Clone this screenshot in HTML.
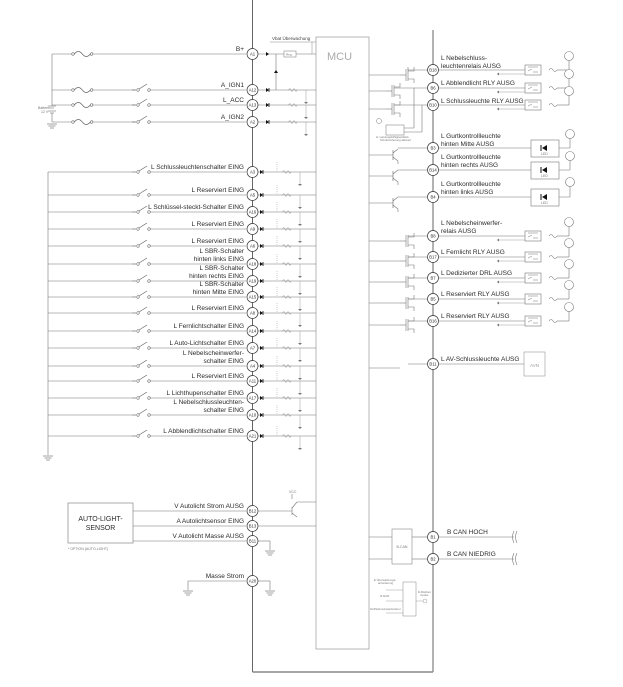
<!DOCTYPE html>
<html><head><meta charset="utf-8"><style>
html,body{margin:0;padding:0;background:#fff}
svg{display:block}
text{font-family:"Liberation Sans",sans-serif}
svg > text:not([fill]), svg > g:not([fill]) > text:not([fill]){fill:#2a2a2a}
</style></head><body>
<svg width="623" height="687" viewBox="0 0 623 687" xmlns="http://www.w3.org/2000/svg">
<defs>
<g id="sw"><line x1="-6" y1="0" x2="-2" y2="0" stroke="#666" stroke-width="0.7"/><circle cx="0" cy="0" r="1.3" fill="#fff" stroke="#666" stroke-width="0.6"/><line x1="1" y1="-1" x2="9" y2="-6" stroke="#666" stroke-width="0.7"/><circle cx="11" cy="0" r="1.3" fill="#fff" stroke="#666" stroke-width="0.6"/></g>
<g id="fu"><circle cx="0" cy="0" r="1.3" fill="#fff" stroke="#666" stroke-width="0.6"/><path d="M1.3 0 q4 -5 8 0 q4 5 8 0" fill="none" stroke="#666" stroke-width="0.7"/><circle cx="18.6" cy="0" r="1.3" fill="#fff" stroke="#666" stroke-width="0.6"/></g>
<g id="din"><polygon points="-2,-2 -2,2 1,0" fill="#111"/><line x1="1" y1="-2" x2="1" y2="2" stroke="#111" stroke-width="0.8"/><path d="M20 0 l2 -1.5 l2 3 l2 -3 l2 3 l1 -1.5" fill="none" stroke="#888" stroke-width="0.5"/><line x1="38" y1="0" x2="38" y2="12" stroke="#999" stroke-width="0.5"/><path d="M36 12 h4 l-2 2 z" fill="#777"/></g>
<g id="gnd"><line x1="-5" y1="0" x2="5" y2="0" stroke="#666" stroke-width="0.6"/><line x1="-3.5" y1="2" x2="3.5" y2="2" stroke="#666" stroke-width="0.6"/><line x1="-2" y1="4" x2="2" y2="4" stroke="#666" stroke-width="0.6"/></g>
<g id="rly"><rect x="0" y="-5" width="16" height="10" fill="#fff" stroke="#777" stroke-width="0.6"/><path d="M3 -3 h10 M3 1 l4 -2 M8 2 h5" stroke="#777" stroke-width="0.5" fill="none"/><line x1="-28" y1="4" x2="0" y2="4" stroke="#999" stroke-width="0.5"/><path d="M-28 4 l2 -1.5 v3z" fill="#777"/><path d="M24 0 q2 -3 4 0 q2 3 4 0" fill="none" stroke="#777" stroke-width="0.6"/><line x1="32" y1="0" x2="44" y2="0" stroke="#777" stroke-width="0.6"/><line x1="44" y1="0" x2="44" y2="-10" stroke="#777" stroke-width="0.6"/><circle cx="44" cy="-14" r="4.5" fill="#fff" stroke="#777" stroke-width="0.6"/></g>
<g id="fet"><line x1="0" y1="-6" x2="0" y2="6" stroke="#777" stroke-width="0.6"/><line x1="2" y1="-6" x2="2" y2="6" stroke="#777" stroke-width="0.6"/><path d="M2 -4 h6 v-4 M2 4 h6 v4" fill="none" stroke="#777" stroke-width="0.6"/><line x1="-6" y1="0" x2="0" y2="0" stroke="#777" stroke-width="0.6"/></g>
<g id="bjt"><line x1="0" y1="-5" x2="0" y2="5" stroke="#777" stroke-width="0.7"/><path d="M0 -2 l5 -4 M0 2 l5 4 v3" fill="none" stroke="#777" stroke-width="0.6"/></g>
<g id="led"><rect x="0" y="-8" width="28" height="17" fill="#fff" stroke="#777" stroke-width="0.6"/><polygon points="16,-3 16,3 11,0" fill="#111"/><line x1="10" y1="-3" x2="10" y2="3" stroke="#111"/><text x="10" y="7" font-size="3.5" fill="#777">LED</text></g>
</defs>

<!-- outer box -->
<g stroke="#555" stroke-width="0.9" fill="none">
<line x1="252.5" y1="0" x2="252.5" y2="672"/>
<line x1="433" y1="30" x2="433" y2="672"/>
<line x1="252.5" y1="672" x2="433" y2="672" stroke-width="1.4" stroke="#888"/>
</g>
<rect x="316" y="37" width="53" height="612" fill="none" stroke="#888" stroke-width="0.6"/>
<text x="327" y="60" font-size="11" fill="#aaa">MCU</text>
<text x="272" y="40" font-size="4.5" fill="#444">Vbat Überwachung</text>
<line x1="270" y1="42" x2="316" y2="42" stroke="#888" stroke-width="0.5"/>
<line x1="312" y1="42" x2="312" y2="54" stroke="#888" stroke-width="0.5"/>

<!-- top power -->
<g stroke="#777" stroke-width="0.6" fill="none">
<line x1="52" y1="54" x2="73" y2="54"/><line x1="92" y1="54" x2="246" y2="54"/>
<line x1="52" y1="54" x2="52" y2="106"/><line x1="52" y1="113" x2="52" y2="122"/>
<line x1="52" y1="90" x2="73" y2="90"/><line x1="92" y1="90" x2="135" y2="90"/><line x1="149" y1="90" x2="246" y2="90"/>
<line x1="52" y1="105" x2="73" y2="105"/><line x1="92" y1="105" x2="135" y2="105"/><line x1="149" y1="105" x2="246" y2="105"/>
<line x1="52" y1="122" x2="73" y2="122"/><line x1="92" y1="122" x2="135" y2="122"/><line x1="149" y1="122" x2="246" y2="122"/>
<line x1="48" y1="106" x2="56" y2="106"/><line x1="50" y1="108" x2="54" y2="108"/><line x1="48" y1="111" x2="56" y2="111"/><line x1="50" y1="113" x2="54" y2="113"/>
<line x1="258" y1="54" x2="284" y2="54"/><line x1="296" y1="54" x2="316" y2="54"/>
<line x1="276" y1="54" x2="276" y2="90"/>
</g>
<use href="#fu" x="73" y="54"/><use href="#fu" x="73" y="90"/><use href="#fu" x="73" y="105"/><use href="#fu" x="73" y="122"/>
<use href="#sw" x="138" y="90"/><use href="#sw" x="138" y="105"/><use href="#sw" x="138" y="122"/>
<use href="#gnd" x="52" y="124"/>
<text x="38" y="109" font-size="3.5" fill="#777">Batterie</text><text x="41" y="113" font-size="3.5" fill="#777">12 V</text>
<rect x="284" y="51" width="12" height="6" fill="#fff" stroke="#777" stroke-width="0.5"/><text x="286" y="55.5" font-size="3" fill="#777">Reg.</text>
<polygon points="266,52 266,56 269,54" fill="#111"/>
<polygon points="274,73 278,73 276,70" fill="#111"/>
<g font-size="6.5" text-anchor="end">
<text x="244" y="51">B+</text><text x="244" y="87">A_IGN1</text><text x="244" y="102">L_ACC</text><text x="244" y="119">A_IGN2</text>
</g>
<g stroke="#777" stroke-width="0.6"><line x1="258" y1="90" x2="316" y2="90"/><line x1="258" y1="105" x2="316" y2="105"/><line x1="258" y1="122" x2="316" y2="122"/></g>
<use href="#din" x="268" y="90"/><use href="#din" x="268" y="105"/><use href="#din" x="268" y="122"/>

<!-- left inputs -->
<line x1="48" y1="172" x2="48" y2="455" stroke="#777" stroke-width="0.6"/>
<use href="#gnd" x="48" y="456"/>
<g stroke="#777" stroke-width="0.6">
<line x1="48" y1="172" x2="132" y2="172"/><line x1="149" y1="172" x2="246" y2="172"/><line x1="258" y1="172" x2="316" y2="172"/>
<line x1="48" y1="195" x2="132" y2="195"/><line x1="149" y1="195" x2="246" y2="195"/><line x1="258" y1="195" x2="316" y2="195"/>
<line x1="48" y1="212" x2="132" y2="212"/><line x1="149" y1="212" x2="246" y2="212"/><line x1="258" y1="212" x2="316" y2="212"/>
<line x1="48" y1="229" x2="132" y2="229"/><line x1="149" y1="229" x2="246" y2="229"/><line x1="258" y1="229" x2="316" y2="229"/>
<line x1="48" y1="246" x2="132" y2="246"/><line x1="149" y1="246" x2="246" y2="246"/><line x1="258" y1="246" x2="316" y2="246"/>
<line x1="48" y1="264" x2="132" y2="264"/><line x1="149" y1="264" x2="246" y2="264"/><line x1="258" y1="264" x2="316" y2="264"/>
<line x1="48" y1="281" x2="132" y2="281"/><line x1="149" y1="281" x2="246" y2="281"/><line x1="258" y1="281" x2="316" y2="281"/>
<line x1="48" y1="297" x2="132" y2="297"/><line x1="149" y1="297" x2="246" y2="297"/><line x1="258" y1="297" x2="316" y2="297"/>
<line x1="48" y1="313" x2="132" y2="313"/><line x1="149" y1="313" x2="246" y2="313"/><line x1="258" y1="313" x2="316" y2="313"/>
<line x1="48" y1="331" x2="132" y2="331"/><line x1="149" y1="331" x2="246" y2="331"/><line x1="258" y1="331" x2="316" y2="331"/>
<line x1="48" y1="348" x2="132" y2="348"/><line x1="149" y1="348" x2="246" y2="348"/><line x1="258" y1="348" x2="316" y2="348"/>
<line x1="48" y1="366" x2="132" y2="366"/><line x1="149" y1="366" x2="246" y2="366"/><line x1="258" y1="366" x2="316" y2="366"/>
<line x1="48" y1="381" x2="132" y2="381"/><line x1="149" y1="381" x2="246" y2="381"/><line x1="258" y1="381" x2="316" y2="381"/>
<line x1="48" y1="398" x2="132" y2="398"/><line x1="149" y1="398" x2="246" y2="398"/><line x1="258" y1="398" x2="316" y2="398"/>
<line x1="48" y1="415" x2="132" y2="415"/><line x1="149" y1="415" x2="246" y2="415"/><line x1="258" y1="415" x2="316" y2="415"/>
<line x1="48" y1="436" x2="132" y2="436"/><line x1="149" y1="436" x2="246" y2="436"/><line x1="258" y1="436" x2="316" y2="436"/>
</g>
<g>
<use href="#sw" x="138" y="172"/><use href="#sw" x="138" y="195"/><use href="#sw" x="138" y="212"/><use href="#sw" x="138" y="229"/><use href="#sw" x="138" y="246"/><use href="#sw" x="138" y="264"/><use href="#sw" x="138" y="281"/><use href="#sw" x="138" y="297"/><use href="#sw" x="138" y="313"/><use href="#sw" x="138" y="331"/><use href="#sw" x="138" y="348"/><use href="#sw" x="138" y="366"/><use href="#sw" x="138" y="381"/><use href="#sw" x="138" y="398"/><use href="#sw" x="138" y="415"/><use href="#sw" x="138" y="436"/>
</g>
<g>
<use href="#din" x="262" y="172"/><use href="#din" x="262" y="195"/><use href="#din" x="262" y="212"/><use href="#din" x="262" y="229"/><use href="#din" x="262" y="246"/><use href="#din" x="262" y="264"/><use href="#din" x="262" y="281"/><use href="#din" x="262" y="297"/><use href="#din" x="262" y="313"/><use href="#din" x="262" y="331"/><use href="#din" x="262" y="348"/><use href="#din" x="262" y="366"/><use href="#din" x="262" y="381"/><use href="#din" x="262" y="398"/><use href="#din" x="262" y="415"/><use href="#din" x="262" y="436"/>
</g>
<g stroke="#999" stroke-width="0.5" stroke-dasharray="1,1">
<line x1="277" y1="162" x2="277" y2="172"/><line x1="277" y1="185" x2="277" y2="195"/><line x1="277" y1="202" x2="277" y2="212"/><line x1="277" y1="219" x2="277" y2="229"/><line x1="277" y1="236" x2="277" y2="246"/><line x1="277" y1="254" x2="277" y2="264"/><line x1="277" y1="271" x2="277" y2="281"/><line x1="277" y1="287" x2="277" y2="297"/><line x1="277" y1="303" x2="277" y2="313"/><line x1="277" y1="321" x2="277" y2="331"/><line x1="277" y1="338" x2="277" y2="348"/><line x1="277" y1="356" x2="277" y2="366"/><line x1="277" y1="371" x2="277" y2="381"/><line x1="277" y1="388" x2="277" y2="398"/><line x1="277" y1="405" x2="277" y2="415"/><line x1="277" y1="426" x2="277" y2="436"/>
</g>
<g font-size="6.5" text-anchor="end">
<text x="244" y="169">L Schlussleuchtenschalter EING</text>
<text x="244" y="192">L Reserviert EING</text>
<text x="244" y="209">L Schlüssel-steckt-Schalter EING</text>
<text x="244" y="226">L Reserviert EING</text>
<text x="244" y="243">L Reserviert EING</text>
<text x="244" y="253">L SBR-Schalter</text><text x="244" y="261">hinten links EING</text>
<text x="244" y="270">L SBR-Schalter</text><text x="244" y="278">hinten rechts EING</text>
<text x="244" y="286">L SBR-Schalter</text><text x="244" y="294">hinten Mitte EING</text>
<text x="244" y="310">L Reserviert EING</text>
<text x="244" y="328">L Fernlichtschalter EING</text>
<text x="244" y="345">L Auto-Lichtschalter EING</text>
<text x="244" y="355">L Nebelscheinwerfer-</text><text x="244" y="363">schalter EING</text>
<text x="244" y="378">L Reserviert EING</text>
<text x="244" y="395">L Lichthupenschalter EING</text>
<text x="244" y="404">L Nebelschlussleuchten-</text><text x="244" y="412">schalter EING</text>
<text x="244" y="433">L Abblendlichtschalter EING</text>
</g>

<!-- left pins -->
<g fill="#fff" stroke="#333" stroke-width="0.7">
<circle cx="252.5" cy="54" r="5.5"/><circle cx="252.5" cy="90" r="5.5"/><circle cx="252.5" cy="105" r="5.5"/><circle cx="252.5" cy="122" r="5.5"/>
<circle cx="252.5" cy="172" r="5.5"/><circle cx="252.5" cy="195" r="5.5"/><circle cx="252.5" cy="212" r="5.5"/><circle cx="252.5" cy="229" r="5.5"/><circle cx="252.5" cy="246" r="5.5"/><circle cx="252.5" cy="264" r="5.5"/><circle cx="252.5" cy="281" r="5.5"/><circle cx="252.5" cy="297" r="5.5"/><circle cx="252.5" cy="313" r="5.5"/><circle cx="252.5" cy="331" r="5.5"/><circle cx="252.5" cy="348" r="5.5"/><circle cx="252.5" cy="366" r="5.5"/><circle cx="252.5" cy="381" r="5.5"/><circle cx="252.5" cy="398" r="5.5"/><circle cx="252.5" cy="415" r="5.5"/><circle cx="252.5" cy="436" r="5.5"/>
<circle cx="252.5" cy="511" r="5.5"/><circle cx="252.5" cy="526" r="5.5"/><circle cx="252.5" cy="541" r="5.5"/><circle cx="252.5" cy="581" r="5.5"/>
</g>
<g font-size="4.2" text-anchor="middle">
<text x="252.5" y="55.5">A1</text><text x="252.5" y="91.5">A12</text><text x="252.5" y="106.5">A13</text><text x="252.5" y="123.5">A2</text>
<text x="252.5" y="173.5">A3</text><text x="252.5" y="196.5">A5</text><text x="252.5" y="213.5">A16</text><text x="252.5" y="230.5">A9</text><text x="252.5" y="247.5">A6</text><text x="252.5" y="265.5">A18</text><text x="252.5" y="282.5">A19</text><text x="252.5" y="298.5">A15</text><text x="252.5" y="314.5">A8</text><text x="252.5" y="332.5">A14</text><text x="252.5" y="349.5">A7</text><text x="252.5" y="367.5">A4</text><text x="252.5" y="382.5">A11</text><text x="252.5" y="399.5">A17</text><text x="252.5" y="416.5">A10</text><text x="252.5" y="437.5">A21</text>
<text x="252.5" y="512.5">B12</text><text x="252.5" y="527.5">B13</text><text x="252.5" y="542.5">B11</text><text x="252.5" y="582.5">A20</text>
</g>

<!-- bottom left -->
<rect x="68" y="503" width="65" height="40" fill="#fff" stroke="#888" stroke-width="0.7"/>
<text x="100.5" y="521" font-size="7" text-anchor="middle">AUTO-LIGHT-</text>
<text x="100.5" y="530" font-size="7" text-anchor="middle">SENSOR</text>
<text x="68" y="550" font-size="3.5" fill="#777">* OPTION (AUTO-LIGHT)</text>
<g stroke="#777" stroke-width="0.6" fill="none">
<line x1="133" y1="511" x2="246" y2="511"/><line x1="133" y1="526" x2="246" y2="526"/><line x1="133" y1="541" x2="246" y2="541"/>
<line x1="258" y1="511" x2="292" y2="511"/><line x1="292" y1="507" x2="292" y2="515"/><line x1="292" y1="508" x2="297" y2="502"/><line x1="292" y1="513" x2="297" y2="517"/><line x1="297" y1="502" x2="316" y2="502"/><line x1="292" y1="499" x2="292" y2="494"/>
<line x1="258" y1="526" x2="316" y2="526"/>
<line x1="258" y1="541" x2="270" y2="541"/><line x1="270" y1="541" x2="270" y2="550"/>
<line x1="188" y1="581" x2="246" y2="581"/><line x1="188" y1="581" x2="188" y2="590"/>
<line x1="258" y1="581" x2="270" y2="581"/><line x1="270" y1="581" x2="270" y2="590"/>
</g>
<use href="#gnd" x="270" y="551"/><use href="#gnd" x="188" y="591"/><use href="#gnd" x="270" y="591"/>
<text x="289" y="493" font-size="3.5" fill="#777">VCC</text>
<g font-size="6.5" text-anchor="end">
<text x="244" y="508">V Autolicht Strom AUSG</text>
<text x="244" y="523">A Autolichtsensor EING</text>
<text x="244" y="538">V Autolicht Masse AUSG</text>
<text x="244" y="578">Masse Strom</text>
</g>

<!-- right side -->
<g stroke="#777" stroke-width="0.6" fill="none">
<line x1="369" y1="75" x2="400" y2="75"/><line x1="408" y1="70" x2="427" y2="70"/><line x1="408" y1="67" x2="408" y2="70"/>
<line x1="369" y1="91" x2="386" y2="91"/><line x1="394" y1="88" x2="427" y2="88"/>
<line x1="369" y1="109" x2="386" y2="109"/><line x1="394" y1="105" x2="427" y2="105"/>
<line x1="414" y1="88" x2="414" y2="128"/><line x1="422" y1="105" x2="422" y2="132"/>
<line x1="386" y1="128" x2="414" y2="128"/><line x1="386" y1="132" x2="422" y2="132"/>
<line x1="369" y1="155" x2="393" y2="155"/><line x1="398" y1="148" x2="427" y2="148"/>
<line x1="369" y1="176" x2="393" y2="176"/><line x1="398" y1="170" x2="427" y2="170"/>
<line x1="369" y1="203" x2="393" y2="203"/><line x1="398" y1="197" x2="427" y2="197"/>
<line x1="369" y1="241" x2="400" y2="241"/><line x1="408" y1="236" x2="427" y2="236"/>
<line x1="369" y1="261" x2="400" y2="261"/><line x1="408" y1="257" x2="427" y2="257"/>
<line x1="369" y1="282" x2="400" y2="282"/><line x1="408" y1="278" x2="427" y2="278"/>
<line x1="369" y1="303" x2="400" y2="303"/><line x1="408" y1="299" x2="427" y2="299"/>
<line x1="369" y1="325" x2="400" y2="325"/><line x1="408" y1="321" x2="427" y2="321"/>
<line x1="369" y1="368" x2="400" y2="368"/><line x1="408" y1="364" x2="427" y2="364"/>
<line x1="439" y1="70" x2="525" y2="70"/><line x1="439" y1="88" x2="525" y2="88"/><line x1="439" y1="105" x2="525" y2="105"/>
<line x1="439" y1="148" x2="570" y2="148"/><line x1="439" y1="170" x2="570" y2="170"/><line x1="439" y1="197" x2="570" y2="197"/>
<line x1="439" y1="236" x2="525" y2="236"/><line x1="439" y1="257" x2="525" y2="257"/><line x1="439" y1="278" x2="525" y2="278"/><line x1="439" y1="299" x2="525" y2="299"/><line x1="439" y1="321" x2="525" y2="321"/>
<line x1="439" y1="364" x2="524" y2="364"/>
<line x1="570" y1="148" x2="570" y2="138"/><line x1="570" y1="170" x2="570" y2="160"/><line x1="570" y1="197" x2="570" y2="186"/>
</g>
<use href="#fet" x="406" y="75"/><use href="#fet" x="392" y="91"/><use href="#fet" x="392" y="109"/>
<use href="#bjt" x="393" y="155"/><use href="#bjt" x="393" y="176"/><use href="#bjt" x="393" y="203"/>
<use href="#fet" x="406" y="241"/><use href="#fet" x="406" y="261"/><use href="#fet" x="406" y="282"/><use href="#fet" x="406" y="303"/><use href="#fet" x="406" y="325"/>
<rect x="386" y="125" width="18" height="10" fill="#fff" stroke="#777" stroke-width="0.5"/>
<circle cx="379" cy="121" r="2.5" fill="none" stroke="#777" stroke-width="0.5"/>
<text x="376" y="138" font-size="2.8" fill="#777">H: Leistungsfähigkeit/Aktiv</text>
<text x="380" y="141" font-size="2.8" fill="#777">Schutzsicherung aktiviert</text>
<use href="#rly" x="525" y="70"/><use href="#rly" x="525" y="88"/><use href="#rly" x="525" y="105"/>
<use href="#rly" x="525" y="236"/><use href="#rly" x="525" y="257"/><use href="#rly" x="525" y="278"/><use href="#rly" x="525" y="299"/><use href="#rly" x="525" y="321"/>
<use href="#led" x="531" y="148"/><use href="#led" x="531" y="170"/><use href="#led" x="531" y="197"/>
<g fill="#fff" stroke="#777" stroke-width="0.6"><circle cx="570" cy="134" r="4.5"/><circle cx="570" cy="156" r="4.5"/><circle cx="570" cy="182" r="4.5"/></g>
<rect x="524" y="352" width="21" height="24" fill="#fff" stroke="#999" stroke-width="0.6"/>
<text x="534.5" y="367" font-size="4.5" fill="#999" text-anchor="middle">AVN</text>

<g fill="#fff" stroke="#333" stroke-width="0.7">
<circle cx="433" cy="70" r="5.5"/><circle cx="433" cy="88" r="5.5"/><circle cx="433" cy="105" r="5.5"/><circle cx="433" cy="148" r="5.5"/><circle cx="433" cy="170" r="5.5"/><circle cx="433" cy="197" r="5.5"/><circle cx="433" cy="236" r="5.5"/><circle cx="433" cy="257" r="5.5"/><circle cx="433" cy="278" r="5.5"/><circle cx="433" cy="299" r="5.5"/><circle cx="433" cy="321" r="5.5"/><circle cx="433" cy="364" r="5.5"/><circle cx="433" cy="537" r="5.5"/><circle cx="433" cy="559" r="5.5"/>
</g>
<g font-size="4.2" text-anchor="middle">
<text x="433" y="71.5">B18</text><text x="433" y="89.5">B6</text><text x="433" y="106.5">B10</text><text x="433" y="149.5">B3</text><text x="433" y="171.5">B14</text><text x="433" y="198.5">B4</text><text x="433" y="237.5">B8</text><text x="433" y="258.5">B17</text><text x="433" y="279.5">B7</text><text x="433" y="300.5">B5</text><text x="433" y="322.5">B16</text><text x="433" y="365.5">B11</text><text x="433" y="538.5">B1</text><text x="433" y="560.5">B2</text>
</g>
<g font-size="6.5">
<text x="441" y="60">L Nebelschluss-</text><text x="441" y="68">leuchtenrelais AUSG</text>
<text x="441" y="85">L Abblendlicht RLY AUSG</text>
<text x="441" y="103">L Schlussleuchte RLY AUSG</text>
<text x="441" y="138">L Gurtkontrollleuchte</text><text x="441" y="146">hinten Mitte AUSG</text>
<text x="441" y="159">L Gurtkontrollleuchte</text><text x="441" y="167">hinten rechts AUSG</text>
<text x="441" y="186">L Gurtkontrollleuchte</text><text x="441" y="194">hinten links AUSG</text>
<text x="441" y="225">L Nebelscheinwerfer-</text><text x="441" y="233">relais AUSG</text>
<text x="441" y="254">L Fernlicht RLY AUSG</text>
<text x="441" y="275">L Dedizierter DRL AUSG</text>
<text x="441" y="296">L Reserviert RLY AUSG</text>
<text x="441" y="318">L Reserviert RLY AUSG</text>
<text x="441" y="361">L AV-Schlussleuchte AUSG</text>
<text x="447" y="534">B CAN HOCH</text>
<text x="447" y="556">B CAN NIEDRIG</text>
</g>
<!-- CAN -->
<rect x="392" y="529" width="20" height="35" fill="#fff" stroke="#888" stroke-width="0.6"/>
<text x="402" y="548" font-size="3.5" fill="#777" text-anchor="middle">B-CAN</text>
<g stroke="#777" stroke-width="0.6" fill="none">
<line x1="369" y1="537" x2="392" y2="537"/><line x1="412" y1="537" x2="427" y2="537"/>
<line x1="369" y1="559" x2="392" y2="559"/><line x1="412" y1="559" x2="427" y2="559"/>
<line x1="439" y1="537" x2="514" y2="537"/><line x1="439" y1="559" x2="514" y2="559"/>
<path d="M514 531 q-3 6 0 12 M517 531 q-3 6 0 12 M514 553 q-3 6 0 12 M517 553 q-3 6 0 12"/>
</g>
<rect x="403" y="582" width="13" height="34" fill="#fff" stroke="#888" stroke-width="0.5"/>
<g font-size="2.8" fill="#777">
<text x="374" y="581">E Überwachungs-</text><text x="378" y="584">anforderung</text>
<text x="380" y="597">IF ECR</text><text x="370" y="610">IG/Parkmodusanforderer</text>
<text x="418" y="593">D-Flächen</text><text x="420" y="596">modus</text>
</g>
<g stroke="#888" stroke-width="0.4" fill="none"><line x1="386" y1="590" x2="403" y2="590"/><line x1="386" y1="601" x2="403" y2="601"/><line x1="386" y1="613" x2="403" y2="613"/><line x1="416" y1="601" x2="423" y2="601"/><circle cx="425" cy="601" r="2"/></g>
</svg>
</body></html>
